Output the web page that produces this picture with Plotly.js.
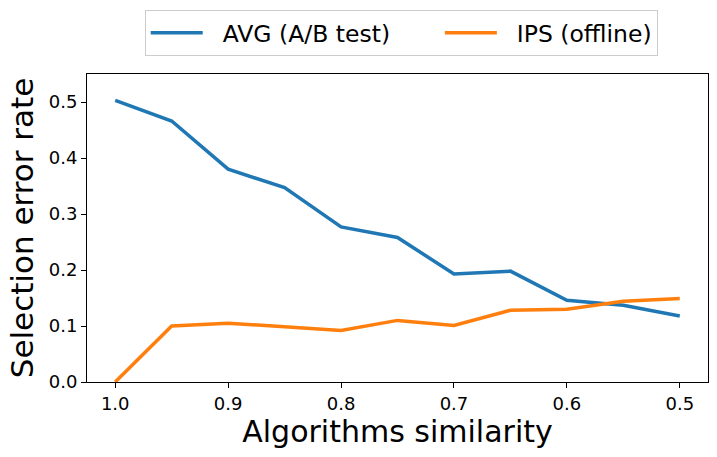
<!DOCTYPE html>
<html>
<head>
<meta charset="utf-8">
<script src="https://cdn.plot.ly/plotly-3.0.1.min.js"></script>
<style>body{margin:0;padding:0;background:#fff}#chart{width:717px;height:457px}</style>
</head>
<body>
<div id="chart"></div>
<script>
const similarity = [1.0, 0.95, 0.9, 0.85, 0.8, 0.75, 0.7, 0.65, 0.6, 0.55, 0.5];
const avgAB = [0.503, 0.466, 0.380, 0.347, 0.277, 0.258, 0.193, 0.198, 0.146, 0.137, 0.118];
const ipsOffline = [0.0, 0.100, 0.105, 0.099, 0.092, 0.110, 0.101, 0.128, 0.130, 0.144, 0.149];
const seriesNames = ['AVG (A/B test)', 'IPS (offline)'];
const xTicks = [1.0, 0.9, 0.8, 0.7, 0.6, 0.5];
const yTicks = [0.0, 0.1, 0.2, 0.3, 0.4, 0.5];

const font = '"DejaVu Sans", sans-serif';
const nb = n => '\u00a0'.repeat(n);

const traces = [
  {x: similarity, y: avgAB, mode: 'lines', name: nb(2) + seriesNames[0] + nb(6), line: {color: '#1f77b4', width: 3.5}},
  {x: similarity, y: ipsOffline, mode: 'lines', name: nb(2) + seriesNames[1], line: {color: '#ff7f0e', width: 3.5}}
];

const axisCommon = {
  showline: true, mirror: true, linecolor: '#000', linewidth: 1,
  ticks: 'outside', ticklen: 5, tickwidth: 1, tickcolor: '#000',
  showgrid: false, zeroline: false,
  tickfont: {family: font, size: 18, color: '#000'}
};

const layout = {
  width: 717, height: 457,
  margin: {l: 87, r: 9, t: 74, b: 75},
  paper_bgcolor: '#fff', plot_bgcolor: '#fff',
  showlegend: true,
  legend: {
    orientation: 'h', x: 0.506, xanchor: 'center', y: 1.208, yanchor: 'top',
    bordercolor: '#cccccc', borderwidth: 1,
    font: {family: font, size: 23.5, color: '#000'},
    itemwidth: 52
  },
  xaxis: Object.assign({}, axisCommon, {
    range: [1.025, 0.475], tickvals: xTicks, ticktext: xTicks.map(v => v.toFixed(1)),
    title: {text: 'Algorithms similarity', font: {family: font, size: 30, color: '#000'}, standoff: 4}
  }),
  yaxis: Object.assign({}, axisCommon, {
    range: [0, 0.55], tickvals: yTicks, ticktext: yTicks.map(v => v.toFixed(1)),
    title: {text: 'Selection error rate', font: {family: font, size: 31, color: '#000'}, standoff: 5}
  })
};

Plotly.newPlot('chart', traces, layout, {displayModeBar: false, staticPlot: true});
</script>
</body>
</html>
